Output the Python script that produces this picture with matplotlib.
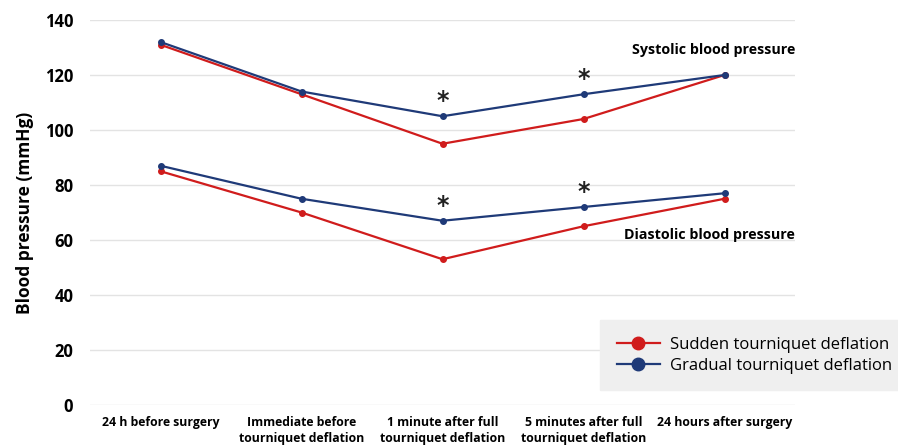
import matplotlib.pyplot as plt

# time points
labels = ["24 h before surgery", "Immediate before\ntourniquet deflation",
          "1 minute after full\ntourniquet deflation", "5 minutes after full\ntourniquet deflation",
          "24 hours after surgery"]

# systolic / diastolic, sudden vs gradual deflation (mmHg)
sys_sudden = [131, 113, 95, 104, 120]
sys_gradual = [132, 114, 105, 113, 120]
dia_sudden = [85, 70, 53, 65, 75]
dia_gradual = [87, 75, 67, 72, 77]

# where the significance stars go
star_x = [2, 3]

plt.rcParams['font.family'] = ['Open Sans', 'DejaVu Sans']

red = '#d01c1c'
blue = '#1f3a78'

fig = plt.figure(figsize=(8.98, 4.47), dpi=100)
ax = fig.add_axes([90/898, 42/447, 705/898, 385/447])

x = list(range(len(labels)))
ax.plot(x, sys_sudden, color=red, lw=1.6, marker='o', ms=4, label="Sudden tourniquet deflation", zorder=3)
ax.plot(x, sys_gradual, color=blue, lw=1.6, marker='o', ms=4, label="Gradual tourniquet deflation", zorder=3)
ax.plot(x, dia_sudden, color=red, lw=1.6, marker='o', ms=4, zorder=3)
ax.plot(x, dia_gradual, color=blue, lw=1.6, marker='o', ms=4, zorder=3)

for i in star_x:
    ax.text(i, sys_gradual[i] + 5.5, '*', ha='center', va='center', fontsize=17,
            fontweight='bold', family='DejaVu Sans', color='#222222')
    ax.text(i, dia_gradual[i] + 5.5, '*', ha='center', va='center', fontsize=17,
            fontweight='bold', family='DejaVu Sans', color='#222222')

ax.text(4.5, 129, "Systolic blood pressure", ha='right', va='center', fontsize=10.3, fontweight='bold')
ax.text(4.5, 62, "Diastolic blood pressure", ha='right', va='center', fontsize=10.3, fontweight='bold')

ax.set_xlim(-0.5, 4.5)
ax.set_ylim(0, 140)
ax.set_yticks(range(0, 141, 20))
ax.set_xticks(x)
ax.set_xticklabels(labels, fontsize=8.8, fontweight='bold', linespacing=1.25)
for t in ax.get_yticklabels():
    t.set_fontweight('bold')
    t.set_fontsize(12)
ax.tick_params(length=0, pad=12)
ax.tick_params(axis='x', pad=8)
ax.grid(axis='y', color='#e3e3e3', lw=1)
ax.set_axisbelow(True)
for s in ax.spines.values():
    s.set_visible(False)
ax.set_ylabel("Blood pressure (mmHg)", fontsize=12.5, fontweight='bold', labelpad=8)

leg = ax.legend(loc='upper left', bbox_to_anchor=(600/898, 1 - 320/447), bbox_transform=fig.transFigure,
                frameon=True, fontsize=12, handlelength=2.6, borderpad=1.0, borderaxespad=0,
                handletextpad=0.6, labelspacing=0.3)
leg.get_frame().set_facecolor('#efefef')
leg.get_frame().set_edgecolor('#efefef')
leg.get_frame().set_boxstyle('square', pad=0)
leg.get_frame().set_alpha(1)
for h in leg.legend_handles:
    h.set_markersize(9)

fig.savefig("out.png", dpi=100, facecolor='white')
